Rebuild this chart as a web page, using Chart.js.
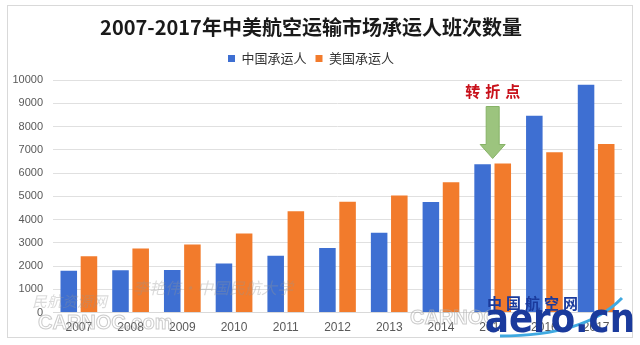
<!DOCTYPE html>
<html>
<head>
<meta charset="utf-8">
<script src="https://cdn.jsdelivr.net/npm/chart.js@4.4.0/dist/chart.umd.min.js"></script>
<style>
  html, body { margin: 0; padding: 0; background: #ffffff; }
  #wrap { width: 640px; height: 345px; position: relative; }
</style>
</head>
<body>
<div id="wrap"><canvas id="mycanvas" width="640" height="345"></canvas></div>
<script>
var years = ['2007', '2008', '2009', '2010', '2011', '2012', '2013', '2014', '2015', '2016', '2017'];
var chinaFlights = [1800, 1820, 1830, 2110, 2440, 2780, 3430, 4760, 6380, 8460, 9800];
var usFlights = [2420, 2760, 2930, 3400, 4360, 4770, 5030, 5600, 6410, 6890, 7250];
var yTicks = [0, 1000, 2000, 3000, 4000, 5000, 6000, 7000, 8000, 9000, 10000];
var turnYear = '2015';

var cjk = '"Noto Sans CJK SC", "Noto Sans", sans-serif';
var latin = '"Liberation Sans", Arial, sans-serif';

// a bit more room under the legend
var legendGap = {
  id: 'legendGap',
  beforeInit: function(chart) {
    var fit = chart.legend.fit;
    chart.legend.fit = function() {
      fit.call(this);
      this.height += 5;
    };
  }
};

// frame, faint watermarks and the "turning point" arrow
var extras = {
  id: 'extras',
  beforeDraw: function(chart) {
    var ctx = chart.ctx;
    ctx.save();
    ctx.strokeStyle = '#d9d9d9';
    ctx.lineWidth = 1;
    ctx.strokeRect(7.5, 5.5, 625, 332);
    ctx.restore();
  },
  afterDatasetsDraw: function(chart) {
    var ctx = chart.ctx;
    var x = chart.scales.x;
    var y = chart.scales.y;
    var i = years.indexOf(turnYear);
    var cx = x.getPixelForValue(i);
    var tip = y.getPixelForValue(Math.max(chinaFlights[i], usFlights[i])) - 5;

    ctx.save();
    // arrow
    ctx.fillStyle = '#9cc47e';
    ctx.strokeStyle = '#86b266';
    ctx.lineWidth = 1;
    ctx.beginPath();
    ctx.moveTo(cx - 6.5, tip - 52);
    ctx.lineTo(cx + 6.5, tip - 52);
    ctx.lineTo(cx + 6.5, tip - 14);
    ctx.lineTo(cx + 12.5, tip - 14);
    ctx.lineTo(cx, tip);
    ctx.lineTo(cx - 12.5, tip - 14);
    ctx.lineTo(cx - 6.5, tip - 14);
    ctx.closePath();
    ctx.fill();
    ctx.stroke();

    // label above arrow
    ctx.fillStyle = '#c8101a';
    ctx.font = 'bold 15px ' + cjk;
    ctx.textAlign = 'center';
    ctx.textBaseline = 'middle';
    var word = ['转', '折', '点'];
    for (var k = 0; k < word.length; k++) {
      ctx.fillText(word[k], cx - 20 + k * 20, tip - 67);
    }

    // faint watermarks
    ctx.fillStyle = 'rgba(150, 150, 150, 0.35)';
    ctx.font = 'italic 16px ' + cjk;
    ctx.textAlign = 'left';
    ctx.fillText('李艳伟·中国民航大学', 133, 288);
    ctx.font = 'italic 15px ' + cjk;
    ctx.fillText('民航资源网', 32, 301);
    ctx.strokeStyle = 'rgba(170, 170, 170, 0.6)';
    ctx.font = 'bold 20px ' + latin;
    ctx.lineWidth = 1;
    ctx.strokeText('CARNOC.com', 38, 323);
    ctx.strokeText('CARNOC', 410, 318);

    // aero.cn logo
    ctx.strokeStyle = '#3fa9e0';
    ctx.lineWidth = 3;
    ctx.beginPath();
    ctx.moveTo(500, 336);
    ctx.quadraticCurveTo(585, 336, 622, 298);
    ctx.stroke();
    ctx.fillStyle = '#1a3a9c';
    ctx.font = 'bold 15px ' + cjk;
    var head = ['中', '国', '航', '空', '网'];
    for (var h = 0; h < head.length; h++) {
      ctx.fillText(head[h], 487 + h * 19, 303);
    }
    ctx.font = 'bold 40px "DejaVu Sans", ' + latin;
    ctx.textBaseline = 'alphabetic';
    var w = ctx.measureText('aero.cn').width;
    ctx.translate(485, 332);
    ctx.scale(150 / w, 1);
    ctx.fillText('aero.cn', 0, 0);
    ctx.restore();
  }
};

var chartdata = {
  labels: years,
  datasets: [
    {
      label: '中国承运人',
      backgroundColor: '#3e6fd2',
      borderColor: '#3e6fd2',
      data: chinaFlights,
      categoryPercentage: 0.78,
      barPercentage: 0.82
    },
    {
      label: '美国承运人',
      backgroundColor: '#f27b2c',
      borderColor: '#f27b2c',
      data: usFlights,
      categoryPercentage: 0.78,
      barPercentage: 0.82
    }
  ]
};

var ctx = document.getElementById('mycanvas');

var barGraph = new Chart(ctx, {
  type: 'bar',
  data: chartdata,
  plugins: [legendGap, extras],
  options: {
    responsive: false,
    animation: false,
    layout: { padding: { left: 0, right: 18, top: 5, bottom: 10 } },
    plugins: {
      title: {
        display: true,
        text: '2007-2017年中美航空运输市场承运人班次数量',
        color: '#1a1a1a',
        font: { family: cjk, size: 20, weight: 'bold' },
        padding: { top: 10, bottom: 4 }
      },
      legend: {
        display: true,
        labels: {
          color: '#333333',
          font: { family: cjk, size: 13 },
          boxWidth: 7,
          boxHeight: 7,
          padding: 9
        }
      },
      tooltip: { enabled: false }
    },
    scales: {
      x: {
        grid: { display: false },
        border: { color: '#d9d9d9' },
        ticks: { color: '#595959', font: { family: latin, size: 12 }, padding: 0 }
      },
      y: {
        min: 0,
        max: 10000,
        afterFit: function(scale) { scale.width = 53; },
        afterBuildTicks: function(scale) {
          scale.ticks = yTicks.map(function(v) { return { value: v }; });
        },
        grid: { color: '#e0e0e0', drawTicks: false },
        border: { display: false },
        ticks: {
          color: '#595959',
          font: { family: latin, size: 11 },
          padding: 10,
          callback: function(value) { return String(value); }
        }
      }
    }
  }
});
</script>
</body>
</html>
